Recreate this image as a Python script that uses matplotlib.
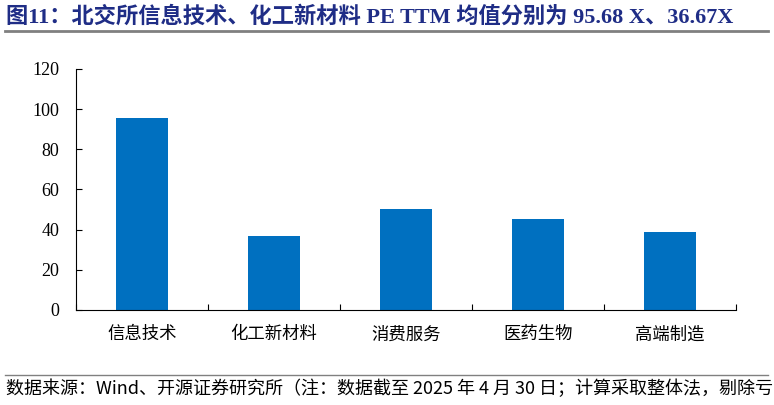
import matplotlib
matplotlib.use("Agg")
import matplotlib.pyplot as plt
from matplotlib.lines import Line2D

categories = ["信息技术", "化工新材料", "消费服务", "医药生物", "高端制造"]
pe_ttm = [95.68, 36.67, 50.2, 45.3, 38.9]
yticks = [0, 20, 40, 60, 80, 100, 120]

title = "图11：北交所信息技术、化工新材料 PE TTM 均值分别为 95.68 X、36.67X"
footer = "数据来源：Wind、开源证券研究所（注：数据截至 2025 年 4 月 30 日；计算采取整体法，剔除亏"

plt.rcParams['font.family'] = ['Liberation Serif', 'Noto Sans CJK SC']

fig = plt.figure(figsize=(7.74, 4.05), dpi=100)
ax = fig.add_axes([76/774, 1 - 310/405, (736-76)/774, (310-69)/405])

x = range(len(categories))
ax.bar(x, pe_ttm, width=0.4, color='#0070C0')
ax.set_xlim(-0.5, len(categories) - 0.5)
ax.set_ylim(0, 120)
ax.set_yticks(yticks)
ax.set_yticklabels([str(v) for v in yticks], fontsize=13)
ax.set_xticks(list(x))
ax.set_xticklabels(categories, fontsize=12.5, family=['Noto Sans CJK SC'])
ax.set_xticks([i + 0.5 for i in range(-1, len(categories))], minor=True)
ax.tick_params(axis='x', which='major', length=0, pad=11)
ax.tick_params(axis='x', which='minor', direction='in', length=4, width=0.8)
ax.tick_params(axis='y', direction='in', length=4, width=0.8, pad=12)
for side in ['top', 'right']:
    ax.spines[side].set_visible(False)
for side in ['left', 'bottom']:
    ax.spines[side].set_linewidth(0.8)

fig.text(6/774, 1 - 17/405, title, fontsize=16, fontweight='bold',
         color='#1F2D86', va='center', ha='left')
fig.add_artist(Line2D([5/774, 768/774], [1 - 31/405, 1 - 31/405],
                      color='#808080', linewidth=2))
fig.add_artist(Line2D([5/774, 768/774], [1 - 375/405, 1 - 375/405],
                      color='#808080', linewidth=1))
fig.text(6/774, 1 - 389/405, footer, fontsize=13, color='black',
         va='center', ha='left', family=['Noto Sans CJK SC'])

fig.savefig("out.png", dpi=100)
